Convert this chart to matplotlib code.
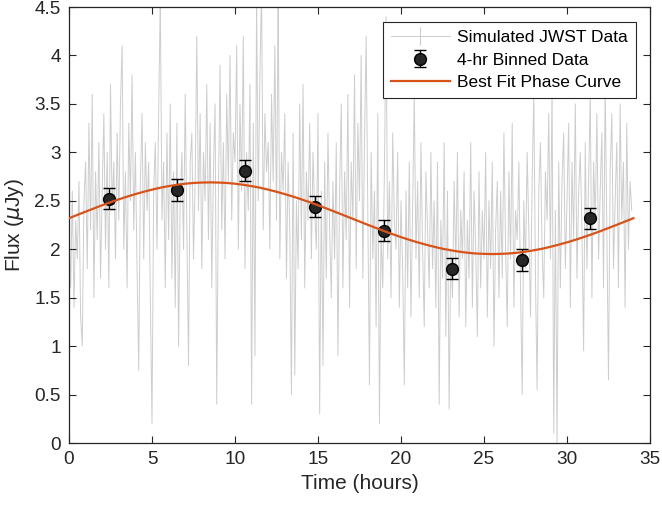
import numpy as np
import matplotlib.pyplot as plt
from matplotlib.ticker import FormatStrFormatter

plt.rcParams['font.family'] = ['Liberation Sans', 'DejaVu Sans']

# Simulated JWST data at a 0.1 hr cadence (one row per hour)
flux_raw = [
    2.2, 1.6, 2.6, 1.4, 2.3, 1.9, 2.7, 1.3, 1.0, 2.5,
    2.9, 1.8, 3.3, 2.2, 3.6, 1.5, 2.8, 2.1, 3.1, 1.7,
    2.6, 3.4, 2.0, 3.0, 1.6, 3.7, 2.4, 2.9, 1.9, 3.2,
    2.3, 3.5, 4.1, 2.0, 2.8, 1.6, 3.3, 2.5, 3.8, 2.2,
    3.0, 1.8, 0.75, 2.7, 3.4, 1.9, 3.1, 2.4, 2.9, 1.5,
    0.2, 2.6, 3.1, 2.0, 3.4, 4.6, 2.3, 2.9, 1.6, 3.2,
    2.1, 3.5, 1.7, 2.8, 1.4, 3.3, 1.0, 2.5, 3.0, 2.0,
    3.6, 2.2, 0.8, 2.9, 3.2, 1.9, 2.7, 4.2, 2.4, 3.4,
    1.8, 3.0, 2.5, 3.7, 2.1, 3.3, 1.6, 2.8, 3.5, 0.4,
    2.6, 3.9, 2.2, 3.1, 1.9, 3.6, 2.7, 4.0, 2.3, 3.2,
    2.9, 4.1, 2.0, 3.5, 2.6, 4.2, 1.8, 3.0, 2.4, 3.7,
    0.4, 3.3, 0.9, 4.6, 2.5, 3.8, 4.7, 2.2, 3.4, 2.8,
    3.1, 2.0, 3.6, 2.7, 4.1, 2.3, 4.6, 1.9, 3.0, 2.6,
    3.4, 1.7, 2.9, 2.2, 0.5, 3.2, 0.7, 2.5, 1.8, 3.5,
    2.1, 3.7, 1.6, 2.8, 2.3, 3.3, 1.9, 3.0, 2.4, 2.0,
    3.4, 0.3, 2.6, 0.8, 2.9, 1.7, 3.2, 2.2, 1.5, 2.7,
    1.9, 3.1, 0.9, 2.6, 3.5, 1.6, 2.8, 2.1, 3.6, 1.4,
    2.9, 2.3, 3.8, 1.8, 3.3, 2.5, 4.0, 1.7, 3.1, 4.2,
    2.4, 0.6, 3.0, 1.9, 2.6, 1.2, 3.4, 0.2, 2.2, 1.6,
    2.8, 4.4, 1.9, 2.7, 1.5, 3.2, 2.3, 2.0, 3.0, 1.4,
    2.5, 1.8, 0.6, 2.6, 1.6, 2.9, 1.3, 2.4, 3.6, 1.9,
    2.7, 1.5, 3.1, 2.0, 1.2, 2.8, 2.2, 1.6, 3.0, 1.8,
    2.5, 1.4, 2.9, 0.4, 2.3, 1.7, 3.1, 1.1, 2.6, 0.35,
    2.0, 1.5, 2.7, 1.8, 3.0, 1.3, 2.4, 1.9, 2.8, 1.2,
    2.3, 1.7, 3.1, 1.4, 2.6, 2.0, 1.1, 2.8, 1.6, 2.4,
    1.9, 3.0, 1.3, 2.5, 1.8, 2.9, 1.0, 2.2, 2.7, 1.5,
    2.6, 1.7, 3.2, 2.0, 1.2, 2.8, 1.9, 3.3, 1.4, 2.4,
    2.1, 2.9, 1.6, 0.5, 2.5, 1.8, 3.0, 2.2, 1.3, 2.7,
    3.6, 1.7, 0.55, 2.6, 3.1, 2.0, 1.5, 2.8, 2.3, 3.4,
    1.9, 3.7, 0.1, 2.4, 0.0, 2.9, 1.6, 2.7, 3.2, 1.8,
    2.5, 3.3, 1.4, 2.9, 2.1, 3.5, 1.7, 2.6, 3.0, 2.2,
    0.95, 3.1, 1.8, 2.7, 3.6, 1.5, 2.9, 2.3, 3.4, 1.9,
    2.6, 3.2, 1.6, 3.7, 2.2, 0.65, 2.8, 3.4, 1.8, 2.5,
    3.1, 1.6, 3.5, 2.3, 2.9, 1.4, 3.3, 2.0, 2.7, 2.4,
]
t_raw = [i / 10 for i in range(len(flux_raw))]

# 4-hr binned points
t_bin = [2.4, 6.5, 10.6, 14.8, 19.0, 23.1, 27.3, 31.4]
flux_bin = [2.52, 2.61, 2.81, 2.44, 2.19, 1.80, 1.89, 2.32]
err_bin = [0.11, 0.11, 0.11, 0.11, 0.11, 0.11, 0.11, 0.11]

# best-fit phase curve, read every half hour
t_fit = [i / 2 for i in range(69)]
flux_fit = [2.320, 2.354, 2.388, 2.421, 2.454, 2.485, 2.515, 2.543, 2.569, 2.593,
            2.615, 2.635, 2.651, 2.665, 2.676, 2.684, 2.688, 2.690, 2.688, 2.684,
            2.676, 2.665, 2.651, 2.635, 2.615, 2.593, 2.569, 2.543, 2.515, 2.485,
            2.454, 2.421, 2.388, 2.354, 2.320, 2.286, 2.252, 2.219, 2.186, 2.155,
            2.125, 2.097, 2.071, 2.047, 2.025, 2.005, 1.989, 1.975, 1.964, 1.956,
            1.952, 1.950, 1.952, 1.956, 1.964, 1.975, 1.989, 2.005, 2.025, 2.047,
            2.071, 2.097, 2.125, 2.155, 2.186, 2.219, 2.252, 2.286, 2.320]

dark = '#262626'

fig = plt.figure(figsize=(6.62, 5.07), dpi=100)
ax = fig.add_axes([69 / 662, 64 / 507, 581 / 662, 436 / 507])

h_raw = ax.errorbar(t_raw, flux_raw, yerr=np.zeros(len(flux_raw)), color='#cdcdcd',
                    ecolor='#cdcdcd', lw=0.7, elinewidth=0.8, capsize=0, zorder=1)
h_bin = ax.errorbar(t_bin, flux_bin, yerr=err_bin, fmt='o', color='black',
                    markerfacecolor=dark, markeredgecolor='black', markersize=8.5,
                    elinewidth=1.0, capsize=4.3, capthick=1.0, zorder=3)
h_fit, = ax.plot(t_fit, flux_fit, color='#D95319', lw=1.6, zorder=4)

ax.set_xlim(0, 35)
ax.set_ylim(0, 4.5)
ax.set_xticks(np.arange(0, 36, 5))
ax.set_yticks(np.arange(0, 4.6, 0.5))
ax.yaxis.set_major_formatter(FormatStrFormatter('%g'))
ax.tick_params(direction='in', top=True, right=True, length=5, width=0.8,
               labelsize=13.7, colors=dark, pad=6)
for s in ax.spines.values():
    s.set_color(dark)
    s.set_linewidth(0.9)

ax.set_xlabel('Time (hours)', fontsize=15, color=dark, labelpad=4)
ax.set_ylabel(r'Flux ($\mu$Jy)', fontsize=15, color=dark, labelpad=6)

leg = ax.legend([h_raw, h_bin, h_fit],
                ['Simulated JWST Data', '4-hr Binned Data', 'Best Fit Phase Curve'],
                loc='upper right', bbox_to_anchor=(636 / 662, 485 / 507),
                bbox_transform=fig.transFigure, borderaxespad=0,
                fontsize=12.5, fancybox=False, framealpha=1, edgecolor=dark,
                handlelength=3.4, handletextpad=0.45, labelspacing=0.43,
                borderpad=0.45)
leg.get_frame().set_linewidth(0.8)
leg.set_zorder(10)

fig.savefig('out.png', dpi=100)
